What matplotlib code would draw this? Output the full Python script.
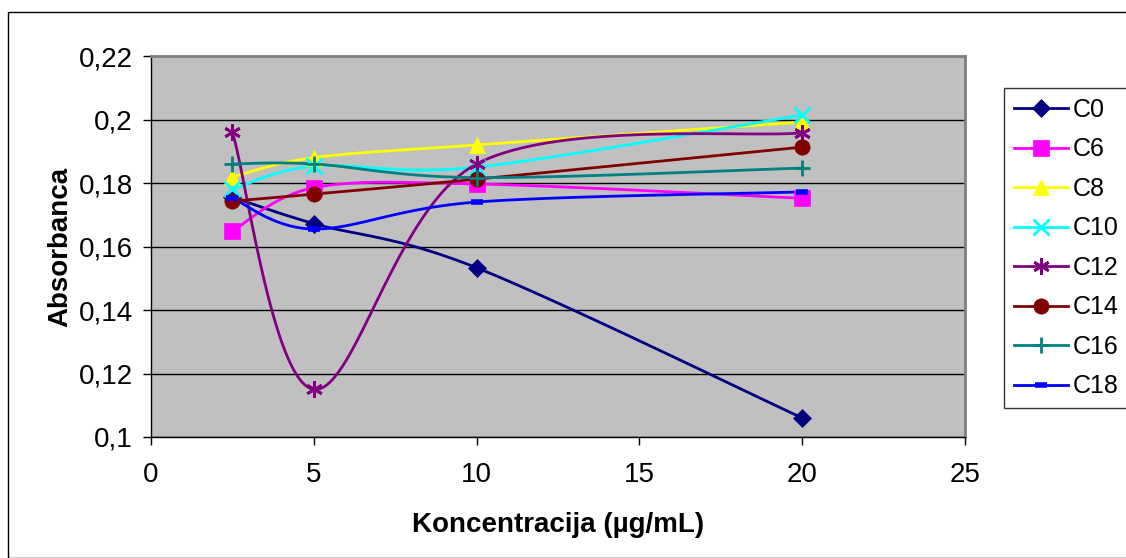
import numpy as np
import matplotlib
matplotlib.use("Agg")
import matplotlib.pyplot as plt
from matplotlib.patches import Rectangle
from matplotlib.ticker import FuncFormatter

plt.rcParams['font.family'] = ['Liberation Sans', 'DejaVu Sans']

konc = [2.5, 5, 10, 20]
names = ['C0', 'C6', 'C8', 'C10', 'C12', 'C14', 'C16', 'C18']
values = {
    'C0':  [0.1756, 0.1672, 0.1533, 0.1060],
    'C6':  [0.1649, 0.1785, 0.1797, 0.1752],
    'C8':  [0.1819, 0.1880, 0.1920, 0.1992],
    'C10': [0.1780, 0.1853, 0.1850, 0.2014],
    'C12': [0.1960, 0.1150, 0.1860, 0.1958],
    'C14': [0.1743, 0.1765, 0.1812, 0.1913],
    'C16': [0.1860, 0.1860, 0.1817, 0.1847],
    'C18': [0.1752, 0.1655, 0.1740, 0.1772],
}
colors = ['#000080', '#FF00FF', '#FFFF00', '#00FFFF', '#800080', '#800000', '#008080', '#0000FF']
markers = ['D', 's', '^', 'x', (6, 2, 0), 'o', '+', '_']
msizes = [9, 11, 11, 11, 12, 11, 12, 8]


def smooth(x, y, n=40):
    # Excel-like smoothed line (Catmull-Rom via cubic Bezier)
    p = np.column_stack([x, y]).astype(float)
    p_ext = np.vstack([p[0], p, p[-1]])
    t = np.linspace(0, 1, n)[:, None]
    out = []
    for i in range(len(p) - 1):
        a, b = p_ext[i + 1], p_ext[i + 2]
        c1 = a + (p_ext[i + 2] - p_ext[i]) / 6
        c2 = b - (p_ext[i + 3] - p_ext[i + 1]) / 6
        seg = (1 - t)**3 * a + 3 * (1 - t)**2 * t * c1 + 3 * (1 - t) * t**2 * c2 + t**3 * b
        out.append(seg)
    out = np.vstack(out)
    return out[:, 0], out[:, 1]


def mew(m):
    if m in ('x', '+', (6, 2, 0)):
        return 2
    if m == '_':
        return 4
    return 0.5


fig = plt.figure(figsize=(11.26, 5.58), dpi=100)
fig.patches.append(Rectangle((8 / 1126, 0), 1.2, 1 - 12 / 558, transform=fig.transFigure,
                             fill=False, edgecolor='black', linewidth=1))
ax = fig.add_axes([151 / 1126, 1 - 437 / 558, 814 / 1126, 381 / 558])
ax.set_facecolor('#C0C0C0')

handles = []
for name, c, m, ms in zip(names, colors, markers, msizes):
    sx, sy = smooth(konc, values[name])
    ax.plot(sx, sy, color=c, linewidth=2.0, zorder=3)
    ax.plot(konc, values[name], linestyle='none', marker=m, color=c, markersize=ms,
            markeredgewidth=mew(m), zorder=4)
    h, = ax.plot([], [], color=c, linewidth=2.0, marker=m, markersize=ms, markeredgewidth=mew(m))
    handles.append(h)

ax.set_xlim(0, 25)
ax.set_ylim(0.1, 0.22)
ax.set_xticks([0, 5, 10, 15, 20, 25])
ax.set_yticks([0.1, 0.12, 0.14, 0.16, 0.18, 0.2, 0.22])
ax.yaxis.set_major_formatter(FuncFormatter(lambda v, p: ('%g' % round(v, 2)).replace('.', ',')))
ax.grid(axis='y', color='black', linewidth=1)
ax.set_axisbelow(True)
for s in ax.spines.values():
    s.set_color('#808080')
    s.set_linewidth(2)
ax.spines['left'].set_color('black')
ax.spines['left'].set_linewidth(1)
ax.spines['bottom'].set_color('black')
ax.spines['bottom'].set_linewidth(1)
ax.tick_params(axis='both', labelsize=20, length=6, width=1, color='black')
ax.tick_params(axis='y', pad=7)
ax.tick_params(axis='x', pad=12)

ax.set_xlabel('Koncentracija (µg/mL)', fontsize=20, fontweight='bold', labelpad=17)
ax.set_ylabel('Absorbanca', fontsize=20, fontweight='bold', labelpad=4)

leg = fig.legend(handles, names, loc='upper left', bbox_to_anchor=(1004 / 1126, 1 - 88 / 558),
                 fontsize=18, frameon=True, fancybox=False, edgecolor='black',
                 handlelength=2.16, handletextpad=0.2, labelspacing=0.62, borderpad=0.4,
                 borderaxespad=0)
leg.get_frame().set_linewidth(1)

fig.savefig('out.png', dpi=100)
